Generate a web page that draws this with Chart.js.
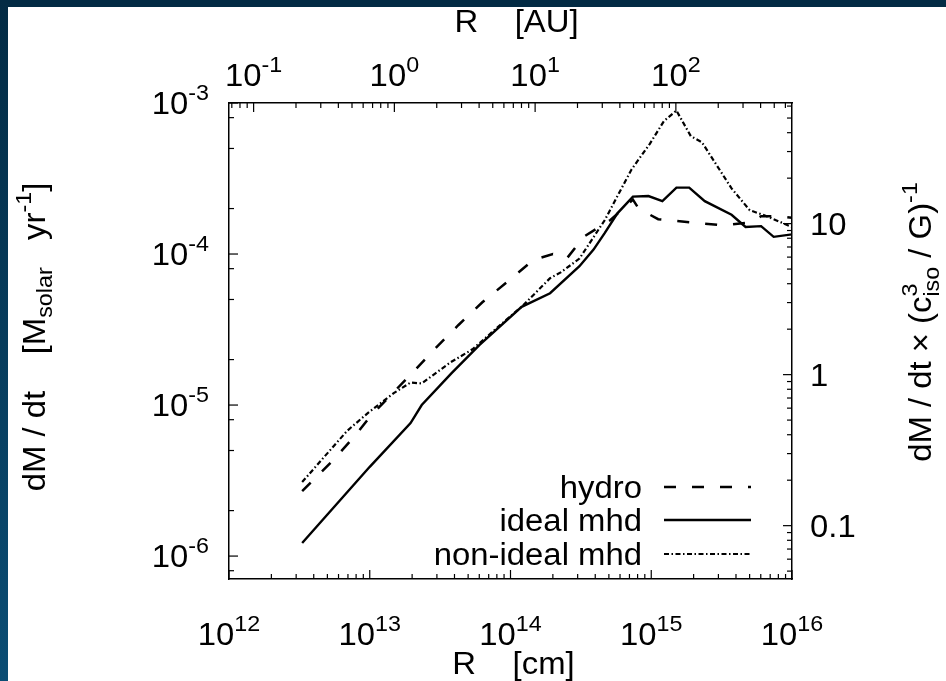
<!DOCTYPE html>
<html>
<head>
<meta charset="utf-8">
<script src="https://cdn.jsdelivr.net/npm/chart.js@4.4.0/dist/chart.umd.min.js"></script>
<style>
  html, body { margin: 0; padding: 0; background: #fff; }
  #wrap { position: relative; width: 946px; height: 681px; overflow: hidden; }
  #wrap canvas { position: absolute; left: 0; top: 0; }
  #stripeTop { position: absolute; left: 0; top: 0; width: 946px; height: 7px; background: #032b44; }
  #stripeLeft { position: absolute; left: 0; top: 0; width: 8px; height: 681px; background: linear-gradient(#032b44, #0b4d74); }
</style>
</head>
<body>
<div id="wrap">
  <canvas id="rateChart" width="946" height="681"></canvas>
  <div id="stripeTop"></div>
  <div id="stripeLeft"></div>
</div>
<script>
// radius in cm, accretion rate in M_solar / yr
const hydroR = [3.31e12, 5.37e12, 7.59e12, 1.02e13, 2.09e13, 3.02e13, 4.27e13, 6.31e13, 9.33e13, 1.45e14,
  2.0e14, 2.51e14, 3.31e14, 5.13e14, 7.41e14, 8.13e14, 1.12e15, 1.91e15, 3.24e15, 5.01e15, 6.03e15, 8.13e15, 1e16];
const hydroM = [2.69e-6, 4.22e-6, 6.03e-6, 8.51e-6, 1.70e-5, 2.45e-5, 3.39e-5, 4.79e-5, 6.46e-5, 9.12e-5,
  1.0e-4, 9.33e-5, 1.30e-4, 1.68e-4, 2.29e-4, 2.0e-4, 1.70e-4, 1.62e-4, 1.55e-4, 1.62e-4, 1.78e-4, 1.78e-4, 1.74e-4];

const idealR = [3.31e12, 1.0e13, 1.95e13, 2.34e13, 3.8e13, 6.03e13, 1.2e14, 1.91e14, 3.09e14, 3.89e14, 4.68e14,
  5.75e14, 7.41e14, 9.55e14, 1.2e15, 1.51e15, 1.86e15, 2.4e15, 3.72e15, 4.68e15, 6.03e15, 7.41e15, 1e16];
const idealM = [1.22e-6, 3.9e-6, 7.6e-6, 1.0e-5, 1.62e-5, 2.5e-5, 4.47e-5, 5.5e-5, 8.3e-5, 1.07e-4, 1.38e-4,
  1.86e-4, 2.4e-4, 2.42e-4, 2.24e-4, 2.75e-4, 2.75e-4, 2.24e-4, 1.82e-4, 1.51e-4, 1.53e-4, 1.3e-4, 1.35e-4];

const nonIdealR = [3.31e12, 4.68e12, 6.92e12, 9.77e12, 1.48e13, 1.95e13, 2.34e13, 3.72e13, 5.37e13, 8.71e13,
  1.23e14, 1.91e14, 2.29e14, 3.09e14, 4.68e14, 7.24e14, 9.77e14, 1.23e15, 1.51e15, 1.91e15, 2.29e15, 3.72e15,
  5.01e15, 6.61e15, 1e16];
const nonIdealM = [3.09e-6, 4.47e-6, 6.76e-6, 8.91e-6, 1.2e-5, 1.41e-5, 1.39e-5, 1.91e-5, 2.34e-5, 3.47e-5,
  4.57e-5, 6.92e-5, 7.59e-5, 9.33e-5, 1.68e-4, 3.63e-4, 5.37e-4, 7.59e-4, 8.91e-4, 6.03e-4, 5.5e-4, 2.72e-4,
  1.95e-4, 1.78e-4, 1.51e-4];

// tick labels
const cmTickExp = [12, 13, 14, 15, 16];
const auTickExp = [-1, 0, 1, 2];
const rateTickExp = [-6, -5, -4, -3];
const scaledTicks = ['0.1', '1', '10'];

const AU = 1.496e13;
const RATE_UNIT = 1.59e-5; // c_iso^3 / G in M_solar / yr
const rMin = 1e12, rMax = 1e16, rateMin = 7.05e-7, rateMax = 1e-3;

const FONT = '"Liberation Sans", Arial, sans-serif';
const BIG = 31, SMALL = 22, STRETCH = 1.06;

function pts(xs, ys) {
  return xs.map((x, i) => ({x: x, y: ys[i]}));
}

function runsWidth(ctx, runs) {
  let w = 0;
  runs.forEach(r => {
    ctx.font = (r.small ? SMALL : BIG) + 'px ' + FONT;
    w += ctx.measureText(r.t).width * STRETCH;
  });
  return w;
}

function drawRuns(ctx, runs, x, y, align) {
  const w = runsWidth(ctx, runs);
  let px = align === 'center' ? x - w / 2 : align === 'right' ? x - w : x;
  runs.forEach(r => {
    ctx.font = (r.small ? SMALL : BIG) + 'px ' + FONT;
    ctx.save();
    ctx.translate(px, y + (r.dy || 0));
    ctx.scale(STRETCH, 1);
    ctx.fillText(r.t, 0, 0);
    ctx.restore();
    px += ctx.measureText(r.t).width * STRETCH;
  });
}

function pow10(e) {
  return [{t: '10'}, {t: String(e), small: true, dy: -14}];
}

function logTicks(ctx, scale, side, minors, a) {
  const lo = Math.floor(Math.log10(scale.min)), hi = Math.ceil(Math.log10(scale.max));
  for (let d = lo; d <= hi; d++) {
    [1].concat(minors).forEach(m => {
      const v = m * Math.pow(10, d);
      if (v < scale.min * 0.999 || v > scale.max * 1.001) return;
      const p = scale.getPixelForValue(v);
      const len = m === 1 ? 9 : 5;
      ctx.beginPath();
      if (side === 'bottom') { ctx.moveTo(p, a.bottom); ctx.lineTo(p, a.bottom - len); }
      if (side === 'top') { ctx.moveTo(p, a.top); ctx.lineTo(p, a.top + len); }
      if (side === 'left') { ctx.moveTo(a.left, p); ctx.lineTo(a.left + len, p); }
      if (side === 'right') { ctx.moveTo(a.right, p); ctx.lineTo(a.right - len, p); }
      ctx.stroke();
    });
  }
}

const decor = {
  id: 'decor',
  afterDraw(chart) {
    const ctx = chart.ctx, a = chart.chartArea, s = chart.scales;
    ctx.save();
    ctx.fillStyle = '#000';
    ctx.strokeStyle = '#000';
    ctx.lineWidth = 1.2;
    ctx.textBaseline = 'alphabetic';
    ctx.textAlign = 'left';

    const all = [2, 3, 4, 5, 6, 7, 8, 9];
    logTicks(ctx, s.x, 'bottom', all, a);
    logTicks(ctx, s.x2, 'top', all, a);
    logTicks(ctx, s.y, 'left', [2, 5, 8], a);
    logTicks(ctx, s.y2, 'right', all, a);

    cmTickExp.forEach(e => drawRuns(ctx, pow10(e), s.x.getPixelForValue(Math.pow(10, e)), 645, 'center'));
    auTickExp.forEach(e => drawRuns(ctx, pow10(e), s.x2.getPixelForValue(Math.pow(10, e)), 86, 'center'));
    rateTickExp.forEach(e => drawRuns(ctx, pow10(e), 209, s.y.getPixelForValue(Math.pow(10, e)) + 11, 'right'));
    scaledTicks.forEach(t => drawRuns(ctx, [{t: t}], 810, s.y2.getPixelForValue(parseFloat(t)) + 11, 'left'));

    const midX = (a.left + a.right) / 2;
    drawRuns(ctx, [{t: 'R    [cm]'}], midX + 3, 674, 'center');
    drawRuns(ctx, [{t: 'R    [AU]'}], midX + 6, 32, 'center');

    ctx.save();
    ctx.translate(45, 337);
    ctx.rotate(-Math.PI / 2);
    drawRuns(ctx, [{t: 'dM / dt    [M'}, {t: 'solar', small: true, dy: 7}, {t: '   yr'},
      {t: '-1', small: true, dy: -14}, {t: ']'}], 0, 0, 'center');
    ctx.restore();

    ctx.save();
    ctx.translate(931, 322);
    ctx.rotate(-Math.PI / 2);
    const parts1 = [{t: 'dM / dt \u00d7 (c'}];
    const w1 = runsWidth(ctx, parts1);
    const supW = runsWidth(ctx, [{t: 'iso', small: true}]);
    const parts2 = [{t: ' / G)'}, {t: '-1', small: true, dy: -14}];
    const total = w1 + supW + runsWidth(ctx, parts2);
    const x0 = -total / 2;
    drawRuns(ctx, parts1, x0, 0, 'left');
    drawRuns(ctx, [{t: '3', small: true, dy: -14}], x0 + w1, 0, 'left');
    drawRuns(ctx, [{t: 'iso', small: true, dy: 8}], x0 + w1, 0, 'left');
    drawRuns(ctx, parts2, x0 + w1 + supW, 0, 'left');
    ctx.restore();

    // legend: label right-aligned, line sample to its right
    const rows = [487, 520, 554];
    chart.data.datasets.forEach((ds, i) => {
      drawRuns(ctx, [{t: ds.label}], 642, rows[i] + 11, 'right');
      ctx.save();
      ctx.lineWidth = ds.borderWidth;
      ctx.setLineDash(ds.borderDash || []);
      ctx.beginPath();
      ctx.moveTo(664, rows[i]);
      ctx.lineTo(751, rows[i]);
      ctx.stroke();
      ctx.restore();
    });
    ctx.restore();
  }
};

function axis(position, min, max, size) {
  return {
    type: 'logarithmic',
    position: position,
    min: min,
    max: max,
    ticks: {display: false},
    grid: {display: false, drawTicks: false},
    border: {display: true, color: '#000', width: 1.5},
    afterFit: size
  };
}

new Chart(document.getElementById('rateChart'), {
  type: 'line',
  data: {
    datasets: [{
      label: 'hydro',
      data: pts(hydroR, hydroM),
      borderColor: '#000',
      borderWidth: 2.5,
      borderDash: [12, 16],
      pointRadius: 0,
      tension: 0,
      fill: false
    }, {
      label: 'ideal mhd',
      data: pts(idealR, idealM),
      borderColor: '#000',
      borderWidth: 2.4,
      pointRadius: 0,
      tension: 0,
      fill: false
    }, {
      label: 'non-ideal mhd',
      data: pts(nonIdealR, nonIdealM),
      borderColor: '#000',
      borderWidth: 2.2,
      borderDash: [5, 2.5, 1.5, 2.5],
      pointRadius: 0,
      tension: 0,
      fill: false
    }]
  },
  options: {
    responsive: false,
    animation: false,
    layout: {padding: 0},
    plugins: {
      legend: {display: false},
      tooltip: {enabled: false}
    },
    scales: {
      x: axis('bottom', rMin, rMax, s => { s.height = 102; }),
      x2: axis('top', rMin / AU, rMax / AU, s => { s.height = 103; }),
      y: axis('left', rateMin, rateMax, s => { s.width = 229; }),
      y2: axis('right', rateMin / RATE_UNIT, rateMax / RATE_UNIT, s => { s.width = 154; })
    }
  },
  plugins: [decor]
});
</script>
</body>
</html>
